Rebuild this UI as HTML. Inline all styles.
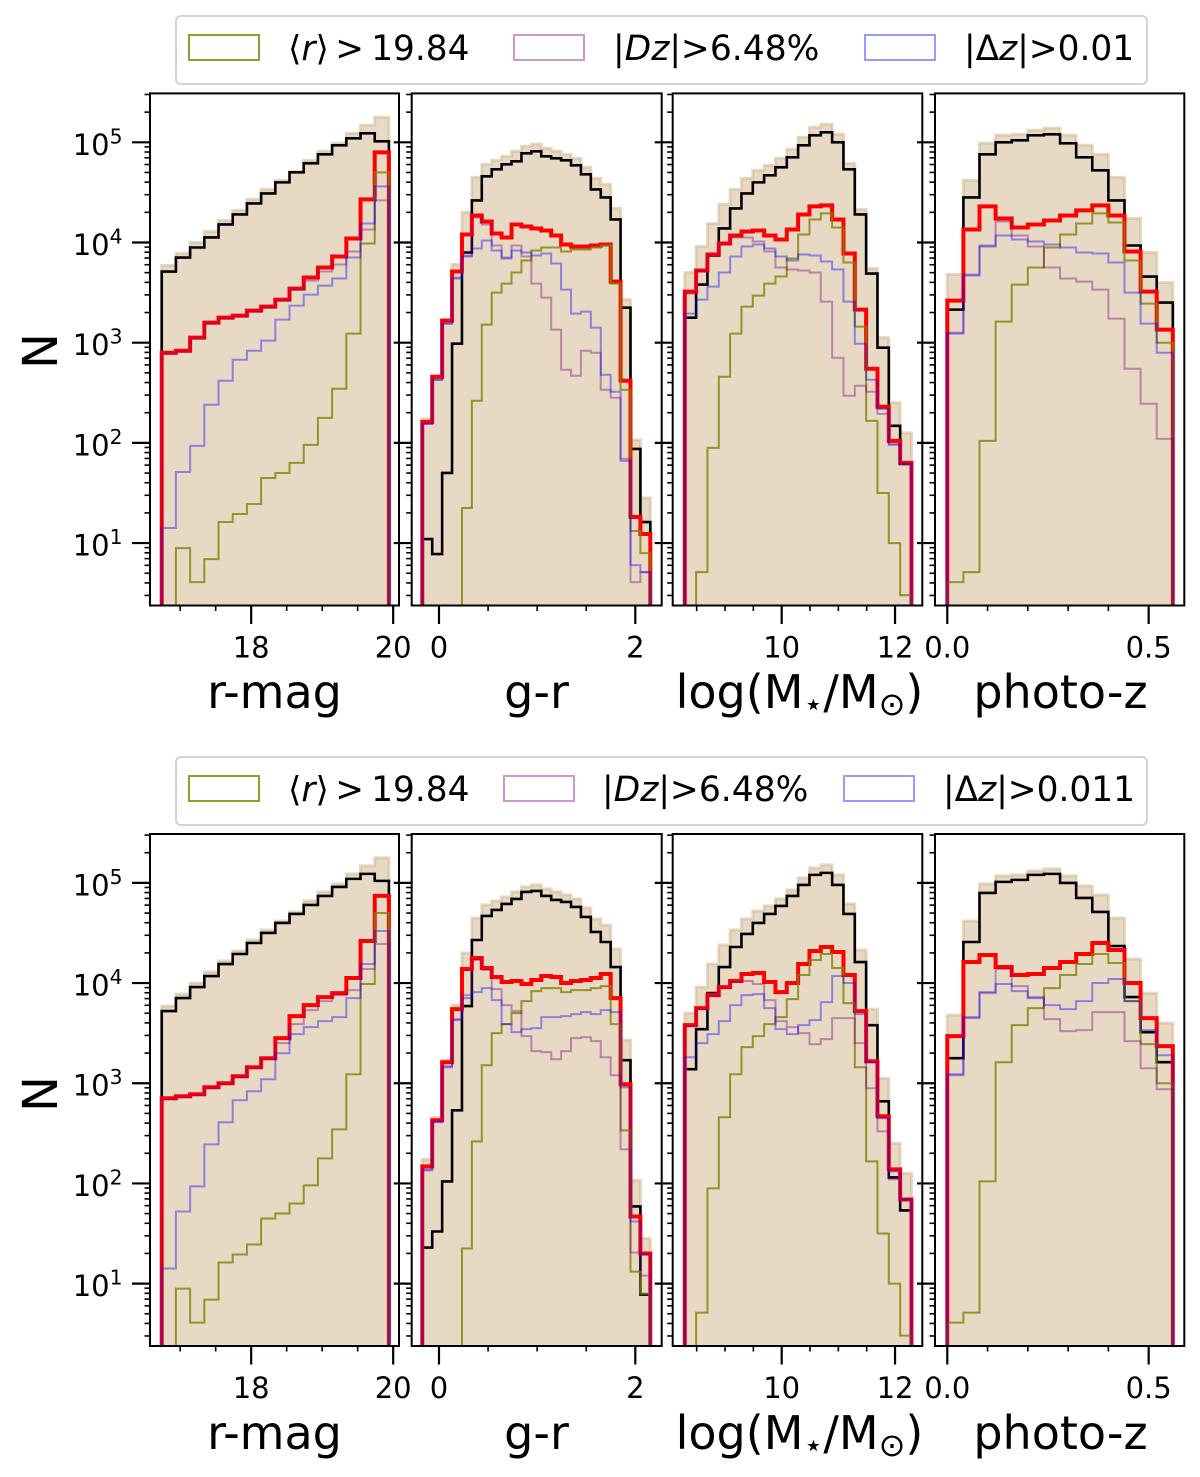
<!DOCTYPE html>
<html lang="en">
<head>
<meta charset="utf-8">
<title>Histogram panels</title>
<style>
html,body{margin:0;padding:0;background:#fff;}
svg{display:block;font-family:"DejaVu Sans","Liberation Sans",sans-serif;}
</style>
</head>
<body>
<svg id="chart" xmlns="http://www.w3.org/2000/svg" width="1200" height="1477" viewBox="0 0 1200 1477">
  <rect x="0" y="0" width="1200" height="1477" fill="#fff"/>

  <g>
    <rect x="176" y="16" width="971" height="68" rx="5" fill="#fff" stroke="#d3d3d3" stroke-width="2"/>
    <rect x="189" y="35" width="70" height="25" fill="none" stroke="rgba(128,128,0,.8)" stroke-width="2"/>
    <text x="288" y="60" font-size="34.3">⟨<tspan font-style="italic">r</tspan>⟩<tspan dx="6.3">&gt;</tspan><tspan dx="7.3">19.84</tspan></text>
    <rect x="514" y="35" width="70" height="25" fill="none" stroke="rgba(128,0,128,.4)" stroke-width="2"/>
    <text x="613" y="60" font-size="34.5">|<tspan font-style="italic">Dz</tspan>|&gt;6.48%</text>
    <rect x="865" y="35" width="70" height="25" fill="none" stroke="rgba(0,0,255,.4)" stroke-width="2"/>
    <text x="964" y="60" font-size="34.4">|Δ<tspan font-style="italic">z</tspan>|&gt;0.01</text>
  </g>

  <g>
    <rect x="176" y="757" width="971" height="68" rx="5" fill="#fff" stroke="#d3d3d3" stroke-width="2"/>
    <rect x="189" y="776" width="70" height="25" fill="none" stroke="rgba(128,128,0,.8)" stroke-width="2"/>
    <text x="288" y="801" font-size="34.3">⟨<tspan font-style="italic">r</tspan>⟩<tspan dx="6.3">&gt;</tspan><tspan dx="7.3">19.84</tspan></text>
    <rect x="504" y="776" width="70" height="25" fill="none" stroke="rgba(128,0,128,.4)" stroke-width="2"/>
    <text x="602" y="801" font-size="34.5">|<tspan font-style="italic">Dz</tspan>|&gt;6.48%</text>
    <rect x="844" y="776" width="70" height="25" fill="none" stroke="rgba(0,0,255,.4)" stroke-width="2"/>
    <text x="943" y="801" font-size="34.4">|Δ<tspan font-style="italic">z</tspan>|&gt;0.011</text>
  </g>

  <text transform="translate(57,351) rotate(-90)" text-anchor="middle" font-size="48">N</text>
  <text transform="translate(57,1094) rotate(-90)" text-anchor="middle" font-size="48">N</text>

  <text x="274.5" y="708" text-anchor="middle" font-size="46">r-mag</text>
  <text x="536.5" y="708" text-anchor="middle" font-size="46">g-r</text>
  <text x="799.5" y="708" text-anchor="middle" font-size="46">log(M<tspan dy="7" font-size="32">⋆</tspan><tspan dy="-7">/M</tspan><tspan dy="7" font-size="32">⊙</tspan><tspan dy="-7">)</tspan></text>
  <text x="1060.5" y="708" text-anchor="middle" font-size="46">photo-z</text>

  <text x="274.5" y="1449" text-anchor="middle" font-size="46">r-mag</text>
  <text x="536.5" y="1449" text-anchor="middle" font-size="46">g-r</text>
  <text x="799.5" y="1449" text-anchor="middle" font-size="46">log(M<tspan dy="7" font-size="32">⋆</tspan><tspan dy="-7">/M</tspan><tspan dy="7" font-size="32">⊙</tspan><tspan dy="-7">)</tspan></text>
  <text x="1060.5" y="1449" text-anchor="middle" font-size="46">photo-z</text>
</svg>

<script>
// All series values are log10(N) per histogram bin.
// Values below the axis floor are simply clipped by the panel.

// ----- r-mag -----
const tanRmag=[3.77,3.89,4.00,4.11,4.22,4.32,4.43,4.53,4.62,4.71,4.82,4.91,4.99,5.09,5.17,5.25];
const oliveRmag=[0,0.95,0.61,0.84,1.21,1.29,1.39,1.65,1.70,1.80,1.98,2.25,2.54,3.09,3.99,4.70];
const blackRmagTop=[3.71,3.85,3.95,4.05,4.18,4.28,4.39,4.49,4.60,4.70,4.79,4.88,4.97,5.04,5.09,5.01];
const plumRmagTop=[2.89,2.91,3.04,3.19,3.24,3.26,3.31,3.35,3.42,3.53,3.62,3.71,3.78,3.91,4.13,4.42];
const blueRmagTop=[1.15,1.71,1.97,2.38,2.62,2.83,2.92,3.02,3.23,3.37,3.48,3.57,3.64,3.85,4.19,4.56];
const redRmagTop=[2.90,2.92,3.05,3.20,3.25,3.27,3.32,3.36,3.43,3.54,3.65,3.75,3.86,4.04,4.43,4.90];
const blackRmagBottom=[3.72,3.85,3.96,4.07,4.19,4.29,4.40,4.50,4.60,4.69,4.78,4.87,4.96,5.04,5.09,5.02];
const plumRmagBottom=[2.84,2.86,2.88,2.95,2.99,3.06,3.15,3.24,3.40,3.59,3.73,3.82,3.88,3.93,4.14,4.39];
const blueRmagBottom=[1.15,1.72,1.97,2.39,2.61,2.83,2.92,3.04,3.30,3.49,3.56,3.62,3.66,3.85,4.19,4.52];
const redRmagBottom=[2.85,2.87,2.89,2.96,3.00,3.07,3.16,3.25,3.45,3.67,3.78,3.86,3.90,4.05,4.42,4.87];

// ----- g-r -----
const tanColor=[2.24,2.66,3.23,3.78,4.30,4.65,4.78,4.82,4.86,4.91,4.96,4.98,4.94,4.91,4.88,4.84,4.75,4.64,4.58,4.34,3.43,2.03,1.45];
const oliveColor=[0,0,0,0,1.35,2.42,3.18,3.50,3.59,3.70,3.82,3.92,3.95,3.95,3.91,3.93,3.93,3.95,3.97,3.59,2.53,1.12,0.90];
const blackColorTop=[1.04,0.89,1.70,2.99,3.90,4.42,4.66,4.73,4.78,4.81,4.89,4.91,4.86,4.84,4.82,4.77,4.68,4.53,4.45,4.23,3.35,1.94,1.21];
const plumColorTop=[2.19,2.63,3.19,3.65,3.87,4.25,4.18,3.97,3.85,3.97,3.86,3.59,3.45,3.13,2.73,2.67,2.92,2.90,2.53,2.45,1.84,0.61,0.71];
const blueColorTop=[2.19,2.63,3.19,3.64,3.86,3.94,4.02,3.92,3.84,3.92,3.90,3.87,3.89,3.79,3.53,3.29,3.31,3.15,2.68,2.51,1.82,0.78,0.71];
const redColorTop=[2.21,2.66,3.22,3.71,4.08,4.27,4.21,4.09,4.05,4.18,4.16,4.14,4.12,4.07,3.98,3.96,3.96,3.97,3.98,3.61,2.62,1.26,1.09];
const blackColorBottom=[1.36,1.52,2.02,2.73,3.77,4.43,4.67,4.73,4.79,4.84,4.91,4.92,4.87,4.83,4.81,4.76,4.66,4.51,4.41,4.16,3.23,1.77,0.89];
const plumColorBottom=[2.14,2.62,3.17,3.64,3.88,4.23,4.13,3.94,3.78,3.72,3.47,3.32,3.31,3.24,3.32,3.45,3.46,3.42,3.26,3.08,2.34,1.31,1.08];
const blueColorBottom=[2.13,2.61,3.16,3.63,3.85,3.91,3.95,3.83,3.59,3.51,3.54,3.55,3.66,3.66,3.67,3.69,3.71,3.69,3.73,3.71,2.96,1.62,1.29];
const redColorBottom=[2.17,2.63,3.21,3.74,4.14,4.25,4.15,4.06,4.01,4.02,3.99,4.03,4.07,4.06,4.00,4.02,4.03,4.05,4.09,3.85,2.99,1.67,1.30];

// ----- log stellar mass -----
const tanMass=[3.70,3.96,4.19,4.38,4.53,4.64,4.72,4.77,4.84,4.93,5.05,5.15,5.18,5.08,4.79,4.33,3.74,3.05,2.40,2.10];
const oliveMass=[0,0.71,1.95,2.66,3.09,3.36,3.47,3.59,3.66,3.84,4.08,4.23,4.29,4.15,3.80,3.16,2.22,1.50,1.00,0.48];
const blackMassTop=[3.25,3.58,3.87,4.14,4.34,4.49,4.60,4.67,4.75,4.85,4.97,5.07,5.10,5.00,4.73,4.28,3.69,2.95,2.17,1.79];
const plumMassTop=[3.49,3.71,3.87,3.98,4.05,4.05,4.01,3.91,3.75,3.73,3.72,3.70,3.41,2.85,2.47,2.57,2.51,2.29,1.99,1.79];
const blueMassTop=[3.29,3.43,3.56,3.70,3.86,3.96,3.98,3.94,3.86,3.82,3.88,3.87,3.81,3.73,3.41,2.99,2.63,2.34,1.98,1.79];
const redMassTop=[3.51,3.72,3.88,3.99,4.07,4.11,4.12,4.07,4.03,4.13,4.28,4.36,4.37,4.23,3.89,3.33,2.74,2.36,2.02,1.80];
const blackMassBottom=[3.14,3.54,3.90,4.16,4.36,4.49,4.60,4.69,4.77,4.87,4.98,5.08,5.10,4.98,4.69,4.21,3.58,2.82,2.06,1.73];
const plumMassBottom=[3.57,3.74,3.87,3.95,4.01,4.02,3.99,3.83,3.62,3.56,3.50,3.39,3.44,3.65,3.65,3.40,2.95,2.52,2.04,1.84];
const blueMassBottom=[3.26,3.40,3.49,3.62,3.78,3.88,3.89,3.75,3.54,3.49,3.58,3.63,3.81,4.07,4.00,3.69,3.21,2.65,2.12,1.84];
const redMassBottom=[3.58,3.75,3.88,3.96,4.02,4.09,4.10,4.01,3.91,4.00,4.19,4.32,4.36,4.31,4.08,3.72,3.22,2.67,2.14,1.84];

// ----- photo-z -----
const tanPhotoz=[3.68,4.62,4.99,5.07,5.08,5.12,5.14,5.07,4.97,4.88,4.65,4.24,3.90,3.60];
const olivePhotoz=[0.61,0.71,2.02,3.21,3.58,3.75,3.95,4.08,4.19,4.29,4.20,3.82,3.39,3.00];
const blackPhotozTop=[3.33,4.45,4.88,5.00,5.02,5.07,5.08,4.99,4.85,4.72,4.42,3.97,3.66,3.40];
const plumPhotozTop=[3.10,3.68,3.97,4.21,4.07,3.96,3.75,3.64,3.61,3.53,3.24,2.74,2.39,2.04];
const bluePhotozTop=[3.09,3.67,3.96,4.07,4.03,4.01,3.98,3.95,3.90,3.89,3.80,3.50,3.19,2.90];
const redPhotozTop=[3.42,4.13,4.36,4.24,4.15,4.18,4.22,4.27,4.32,4.37,4.27,3.91,3.51,3.13];
const blackPhotozBottom=[3.25,4.41,4.90,5.01,5.03,5.08,5.09,5.00,4.85,4.71,4.37,3.86,3.51,3.21];
const plumPhotozBottom=[3.08,3.65,3.90,4.14,3.97,3.86,3.64,3.52,3.53,3.71,3.71,3.42,3.15,2.94];
const bluePhotozBottom=[3.09,3.66,3.91,3.99,3.92,3.85,3.78,3.74,3.82,4.00,4.04,3.82,3.53,3.28];
const redPhotozBottom=[3.47,4.21,4.28,4.16,4.08,4.09,4.15,4.21,4.29,4.40,4.33,4.00,3.65,3.37];

// ----- axis ticks -----
const yTickExponents=[1,2,3,4,5];
const yMinorMultiples=[2,3,4,5,6,7,8,9];
const rmagMajorTicks=[18,20];
const rmagMinorTicks=[17,17.5,18.5,19,19.5];
const rmagTickLabels=['18','20'];
const colorMajorTicks=[0,2];
const colorMinorTicks=[0.5,1,1.5];
const colorTickLabels=['0','2'];
const massMajorTicks=[10,12];
const massMinorTicks=[8.5,9,9.5,10.5,11,11.5];
const massTickLabels=['10','12'];
const photozMajorTicks=[0,0.5];
const photozMinorTicks=[0.1,0.2,0.3,0.4];
const photozTickLabels=['0.0','0.5'];

// ----- layout and scales -----
const NS='http://www.w3.org/2000/svg';
const svg=document.getElementById('chart');
const yMinLog=0.377, yMaxLog=5.488;
const rowLayout=[{key:'top',y0:93.4,y1:605.5,labelY:657.4},{key:'bottom',y0:834,y1:1346,labelY:1398.2}];
const colLayout=[
  {key:'r-mag',x0:150,x1:399,xMin:16.575,xMax:20.082,binStart:16.74,binWidth:0.2,major:rmagMajorTicks,minor:rmagMinorTicks,labels:rmagTickLabels,
   tan:tanRmag,olive:oliveRmag,top:[blackRmagTop,redRmagTop,plumRmagTop,blueRmagTop],bottom:[blackRmagBottom,redRmagBottom,plumRmagBottom,blueRmagBottom]},
  {key:'g-r',x0:411.7,x1:661.7,xMin:-0.278,xMax:2.269,binStart:-0.17,binWidth:0.101,major:colorMajorTicks,minor:colorMinorTicks,labels:colorTickLabels,
   tan:tanColor,olive:oliveColor,top:[blackColorTop,redColorTop,plumColorTop,blueColorTop],bottom:[blackColorBottom,redColorBottom,plumColorBottom,blueColorBottom]},
  {key:'stellar-mass',x0:672.7,x1:922.3,xMin:8.077,xMax:12.481,binStart:8.29,binWidth:0.2,major:massMajorTicks,minor:massMinorTicks,labels:massTickLabels,
   tan:tanMass,olive:oliveMass,top:[blackMassTop,redMassTop,plumMassTop,blueMassTop],bottom:[blackMassBottom,redMassBottom,plumMassBottom,blueMassBottom]},
  {key:'photo-z',x0:935,x1:1184.3,xMin:-0.0305,xMax:0.5885,binStart:0,binWidth:0.04,major:photozMajorTicks,minor:photozMinorTicks,labels:photozTickLabels,
   tan:tanPhotoz,olive:olivePhotoz,top:[blackPhotozTop,redPhotozTop,plumPhotozTop,bluePhotozTop],bottom:[blackPhotozBottom,redPhotozBottom,plumPhotozBottom,bluePhotozBottom]}
];

function make(tag,attrs,parent){
  const el=document.createElementNS(NS,tag);
  for(const k in attrs){el.setAttribute(k,attrs[k]);}
  parent.appendChild(el);
  return el;
}
function xScale(col,v){return col.x0+(v-col.xMin)*(col.x1-col.x0)/(col.xMax-col.xMin);}
function yScale(row,logN){return row.y1-(logN-yMinLog)*(row.y1-row.y0)/(yMaxLog-yMinLog);}
function stepPath(col,row,values){
  let d='M'+xScale(col,col.binStart).toFixed(2)+' '+(row.y1+6);
  values.forEach(function(v,i){
    const yy=Math.min(yScale(row,v),row.y1+6);
    d+='V'+yy.toFixed(2)+'H'+xScale(col,col.binStart+(i+1)*col.binWidth).toFixed(2);
  });
  return d+'V'+(row.y1+6);
}

const seriesStyles=[
  {key:'control-black',stroke:'#000',width:2.6},
  {key:'all-outliers-red',stroke:'#ff0000',width:4},
  {key:'plum-dz-cut',stroke:'rgba(128,0,128,.4)',width:2},
  {key:'blue-delta-z-cut',stroke:'rgba(0,0,255,.4)',width:2}
];

const defs=make('defs',{},svg);

rowLayout.forEach(function(row){
  colLayout.forEach(function(col,colIndex){
    const panelKey=col.key+'-'+row.key;
    const clipId='clip-'+panelKey;
    const clip=make('clipPath',{id:clipId},defs);
    make('rect',{x:col.x0,y:row.y0,width:col.x1-col.x0,height:row.y1-row.y0},clip);

    const panel=make('g',{},svg);
    
    

    const marks=make('g',{'clip-path':'url(#'+clipId+')'},panel);
    
    

    const tan=make('path',{d:stepPath(col,row,col.tan)+'Z',fill:'rgba(210,180,140,.5)',stroke:'rgba(210,180,140,.5)','stroke-width':3},marks);
    
    

    const rowSeries=col[row.key];
    const order=[0,1];
    order.forEach(function(si){
      const st=seriesStyles[si];
      const line=make('path',{d:stepPath(col,row,rowSeries[si]),fill:'none',stroke:st.stroke,'stroke-width':st.width,'stroke-linejoin':'miter'},marks);
      
      
    });

    const olive=make('path',{d:stepPath(col,row,col.olive),fill:'none',stroke:'rgba(128,128,0,.8)','stroke-width':2},marks);
    
    

    [2,3].forEach(function(si){
      const st=seriesStyles[si];
      const line=make('path',{d:stepPath(col,row,rowSeries[si]),fill:'none',stroke:st.stroke,'stroke-width':st.width},marks);
      
      
    });

    const frame=make('rect',{x:col.x0,y:row.y0,width:col.x1-col.x0,height:row.y1-row.y0,fill:'none',stroke:'#000','stroke-width':2},panel);
    
    

    // y ticks
    yTickExponents.forEach(function(e){
      const ty=yScale(row,e);
      const tick=make('line',{x1:col.x0-18,x2:col.x0,y1:ty,y2:ty,stroke:'#000','stroke-width':2.2},panel);
      
      
      if(colIndex===0){
        const label=make('text',{x:122.5,y:ty+12.5,'text-anchor':'end','font-size':29},panel);
        
        
        label.appendChild(document.createTextNode('10'));
        const sup=make('tspan',{dy:-11.5,'font-size':20.3},label);
        sup.textContent=String(e);
      }
    });
    [0,1,2,3,4,5].forEach(function(e){
      yMinorMultiples.forEach(function(m){
        const lv=e+Math.log10(m);
        if(lv<yMinLog||lv>yMaxLog){return;}
        const ty=yScale(row,lv);
        const tick=make('line',{x1:col.x0-5.5,x2:col.x0,y1:ty,y2:ty,stroke:'#000','stroke-width':1.6},panel);
        
        
      });
    });

    // x ticks
    col.major.forEach(function(v,i){
      const tx=xScale(col,v);
      const tick=make('line',{x1:tx,x2:tx,y1:row.y1,y2:row.y1+18.5,stroke:'#000','stroke-width':2.2},panel);
      
      
      const label=make('text',{x:tx,y:row.labelY,'text-anchor':'middle','font-size':29},panel);
      
      
      label.textContent=col.labels[i];
    });
    col.minor.forEach(function(v){
      const tx=xScale(col,v);
      const tick=make('line',{x1:tx,x2:tx,y1:row.y1,y2:row.y1+5.5,stroke:'#000','stroke-width':1.6},panel);
      
      
    });
  });
});
</script>
</body>
</html>
